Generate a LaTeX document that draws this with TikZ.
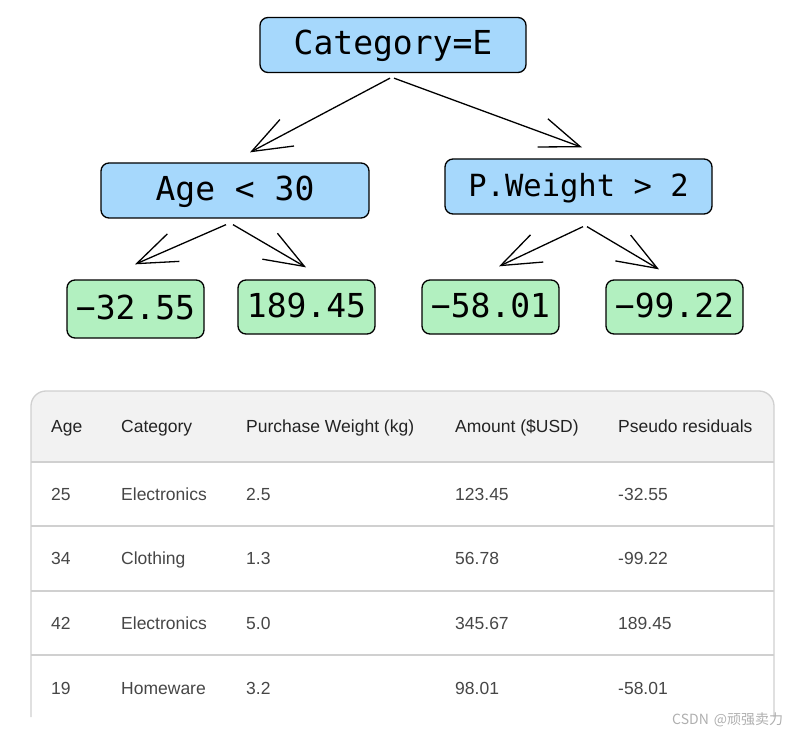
\documentclass[tikz,border=0pt]{standalone}
\usepackage{fontspec}
\setmainfont{Liberation Sans}
\newfontfamily\treemono{DejaVu Sans Mono}
\newfontfamily\cjkfont{Noto Sans CJK SC}
\usetikzlibrary{arrows.meta}
\definecolor{nodeblue}{RGB}{166,216,252}
\definecolor{leafgreen}{RGB}{178,240,192}
\definecolor{gridgray}{RGB}{208,208,208}
\definecolor{headfill}{RGB}{242,242,242}
\definecolor{headtext}{RGB}{35,35,35}
\definecolor{celltext}{RGB}{70,70,70}
\definecolor{markgray}{RGB}{175,175,175}
\begin{document}
\begin{tikzpicture}[x=1pt,y=-1pt,
  treebox/.style={draw=black, line width=1.3pt, rounded corners=8pt, inner sep=0pt,
    text height=24pt, text depth=4pt, font=\treemono\fontsize{33}{33}\selectfont},
  splitbox/.style={treebox, fill=nodeblue, minimum height=55pt},
  leafbox/.style={treebox, fill=leafgreen, minimum width=137pt, minimum height=54pt},
  edge/.style={line width=1.3pt, -{Straight Barb[length=40pt,width=30pt]}},
  gridline/.style={draw=gridgray, line width=1.3pt},
  headcell/.style={anchor=west, text=headtext, inner sep=0pt, text height=12.5pt, text depth=3.5pt,
    font=\fontsize{17.5}{17.5}\selectfont},
  bodycell/.style={headcell, text=celltext},
]
\useasboundingbox (0,0) rectangle (800,735);

% ---------- tree ----------
\node[splitbox, minimum width=266pt] (cat) at (393,45) {Category=E};
\node[splitbox, minimum width=268pt] (age) at (235,190.5) {Age < 30};
\node[splitbox, minimum width=267pt, font=\treemono\fontsize{30.5}{30.5}\selectfont] (pw) at (578.5,186.5) {P.Weight > 2};
\node[leafbox, minimum height=58pt] (l1) at (135.5,309) {−32.55};
\node[leafbox] (l2) at (306.5,307) {189.45};
\node[leafbox] (l3) at (490.5,307) {−58.01};
\node[leafbox] (l4) at (674.5,307) {−99.22};

\draw[edge] ([xshift=-3pt,yshift=-5pt]cat.south) -- ([xshift=15pt,yshift=10pt]age.north);
\draw[edge] ([xshift=1pt,yshift=-5pt]cat.south) -- ([xshift=3.5pt,yshift=11pt]pw.north);
\draw[edge] ([xshift=-9pt,yshift=-6pt]age.south) -- ([xshift=-0.5pt,yshift=15pt]l1.north);
\draw[edge] ([xshift=-2pt,yshift=-6pt]age.south) -- ([xshift=-0.5pt,yshift=12pt]l2.north);
\draw[edge] ([xshift=4.5pt,yshift=-12pt]pw.south) -- ([xshift=8.5pt,yshift=13pt]l3.north);
\draw[edge] ([xshift=8.5pt,yshift=-12pt]pw.south) -- ([xshift=-15.5pt,yshift=10pt]l4.north);

% ---------- table ----------
\fill[headfill, rounded corners=15pt] (31,462) rectangle (774,391);
\fill[headfill] (31,430) rectangle (774,462);
\draw[gridline, rounded corners=15pt] (31,717) -- (31,391) -- (774,391) -- (774,717);
\draw[gridline] (31,462) -- (774,462);
\draw[gridline] (31,526) -- (774,526);
\draw[gridline] (31,591) -- (774,591);
\draw[gridline] (31,655) -- (774,655);

\node[headcell] (h1) at (51,427.5) {Age};
\node[headcell] (h2) at (121,427.5) {Category};
\node[headcell] (h3) at (246,427.5) {Purchase Weight (kg)};
\node[headcell] (h4) at (455,427.5) {Amount (\$USD)};
\node[headcell] (h5) at (618,427.5) {Pseudo residuals};

\node[bodycell] (a1) at (51,495.5) {25};
\node[bodycell] (b1) at (121,495.5) {Electronics};
\node[bodycell] (c1) at (246,495.5) {2.5};
\node[bodycell] (d1) at (455,495.5) {123.45};
\node[bodycell] (e1) at (618,495.5) {-32.55};

\node[bodycell] (a2) at (51,560) {34};
\node[bodycell] (b2) at (121,560) {Clothing};
\node[bodycell] (c2) at (246,560) {1.3};
\node[bodycell] (d2) at (455,560) {56.78};
\node[bodycell] (e2) at (618,560) {-99.22};

\node[bodycell] (a3) at (51,624.5) {42};
\node[bodycell] (b3) at (121,624.5) {Electronics};
\node[bodycell] (c3) at (246,624.5) {5.0};
\node[bodycell] (d3) at (455,624.5) {345.67};
\node[bodycell] (e3) at (618,624.5) {189.45};

\node[bodycell] (a4) at (51,689.5) {19};
\node[bodycell] (b4) at (121,689.5) {Homeware};
\node[bodycell] (c4) at (246,689.5) {3.2};
\node[bodycell] (d4) at (455,689.5) {98.01};
\node[bodycell] (e4) at (618,689.5) {-58.01};

\node[anchor=west, inner sep=0pt, text=markgray, font=\cjkfont\fontsize{14}{14}\selectfont] (wm) at (672,720) {CSDN\hspace{5pt}@顽强卖力};
\end{tikzpicture}
\end{document}
